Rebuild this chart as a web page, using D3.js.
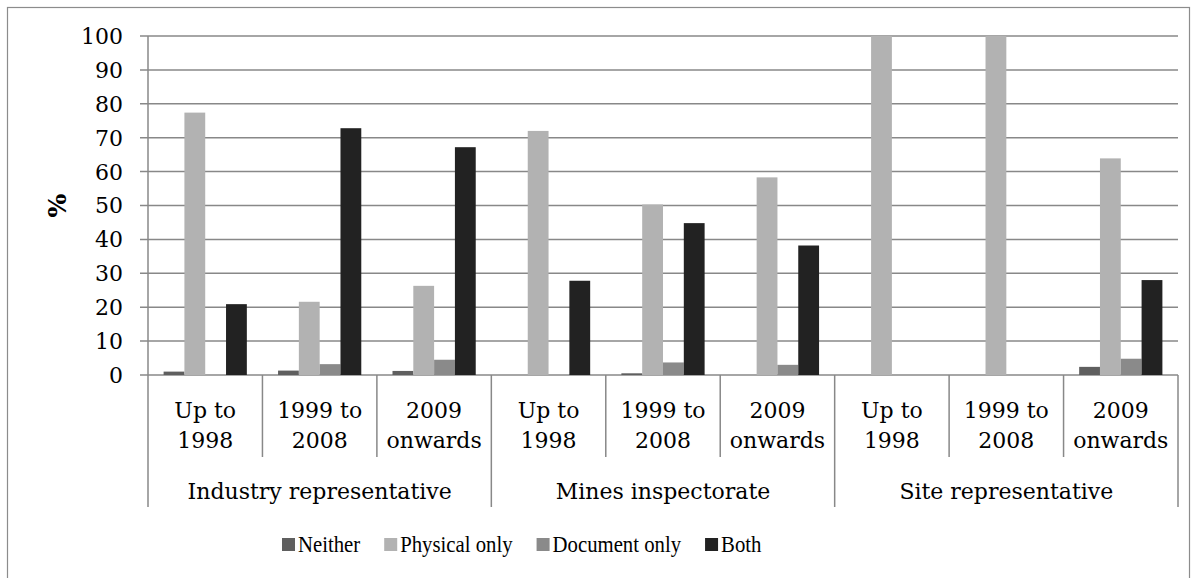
<!DOCTYPE html>
<html>
<head>
<meta charset="utf-8">
<script src="https://cdn.jsdelivr.net/npm/d3@7"></script>
<style>
  body { margin: 0; background: #fff; }
  svg { display: block; }
  text { font-family: "DejaVu Serif", serif; fill: #000; }
</style>
</head>
<body>
<script>
// chart data
var groups = ["Industry representative", "Mines inspectorate", "Site representative"];
var periods = [["Up to", "1998"], ["1999 to", "2008"], ["2009", "onwards"]];
var series = ["Neither", "Physical only", "Document only", "Both"];
var colors = ["#5f5f5f", "#b2b2b2", "#8a8a8a", "#222222"];

// one entry per group/period, in the order above
var neither  = [1.0, 1.3, 1.2,   0, 0.5,   0,   0,   0, 2.4];
var physical = [77.4, 21.6, 26.3, 72.0, 50.3, 58.3, 100, 100, 63.9];
var documentOnly = [0, 3.2, 4.5, 0, 3.7, 3.0, 0, 0, 4.8];
var both     = [20.9, 72.8, 67.2, 27.8, 44.8, 38.2, 0, 0, 28.0];

var yTicks = [0, 10, 20, 30, 40, 50, 60, 70, 80, 90, 100];

var width = 1197, height = 578;
var plot = { left: 148, right: 1178, top: 36, bottom: 375 };

var svg = d3.select("body").append("svg")
    .attr("width", width)
    .attr("height", height);

// outer chart border
svg.append("rect")
    .attr("x", 7.5).attr("y", 7.5)
    .attr("width", 1182).attr("height", 600)
    .attr("fill", "none")
    .attr("stroke", "#8c8c8c")
    .attr("stroke-width", 1.2);

// build the rows for the 9 categories
var rows = [];
groups.forEach(function (g, gi) {
    periods.forEach(function (p, pi) {
        var i = gi * 3 + pi;
        rows.push({
            key: i, group: g, period: p,
            values: [neither[i], physical[i], documentOnly[i], both[i]]
        });
    });
});

var x0 = d3.scaleBand()
    .domain(rows.map(d => d.key))
    .range([plot.left, plot.right])
    .padding(0);

// gap width 150% -> 4 bars + 1.5 bar of gap
var bw = x0.bandwidth() / 5.5;
var x1 = d3.scaleBand()
    .domain(d3.range(series.length))
    .range([bw * 0.75, x0.bandwidth() - bw * 0.75])
    .padding(0);

var y = d3.scaleLinear()
    .domain([0, 100])
    .range([plot.bottom, plot.top]);

// gridlines
svg.append("g")
    .selectAll("line")
    .data(yTicks)
    .enter().append("line")
    .attr("x1", plot.left - 8)
    .attr("x2", plot.right)
    .attr("y1", d => y(d))
    .attr("y2", d => y(d))
    .attr("stroke", "#888")
    .attr("stroke-width", 1.5);

// y tick labels
svg.append("g")
    .selectAll("text")
    .data(yTicks)
    .enter().append("text")
    .attr("x", 123)
    .attr("y", d => y(d))
    .attr("dy", "0.36em")
    .attr("text-anchor", "end")
    .attr("font-size", "22px")
    .text(d => d);

// y axis title
svg.append("text")
    .attr("transform", "translate(66," + ((plot.top + plot.bottom) / 2) + ") rotate(-90)")
    .attr("text-anchor", "middle")
    .attr("font-size", "25px")
    .attr("font-weight", "bold")
    .text("%");

// bars
var cat = svg.append("g")
    .selectAll("g")
    .data(rows)
    .enter().append("g")
    .attr("transform", d => "translate(" + x0(d.key) + ",0)");

cat.selectAll("rect")
    .data(d => d.values.map((v, i) => ({ v: v, i: i })))
    .enter().append("rect")
    .attr("x", d => x1(d.i))
    .attr("width", x1.bandwidth())
    .attr("y", d => y(d.v))
    .attr("height", d => y(0) - y(d.v))
    .attr("fill", d => colors[d.i]);

// y axis line
svg.append("line")
    .attr("x1", plot.left).attr("x2", plot.left)
    .attr("y1", plot.top).attr("y2", plot.bottom)
    .attr("stroke", "#888").attr("stroke-width", 1.5);

// category separators (short) and group separators (long)
var seps = d3.range(rows.length + 1);
svg.append("g")
    .selectAll("line")
    .data(seps)
    .enter().append("line")
    .attr("x1", d => d < rows.length ? x0(d) : plot.right)
    .attr("x2", d => d < rows.length ? x0(d) : plot.right)
    .attr("y1", plot.bottom)
    .attr("y2", d => d % 3 === 0 ? 507 : 457)
    .attr("stroke", "#888")
    .attr("stroke-width", 1.5);

// period labels (two lines each)
var lab = svg.append("g")
    .selectAll("text")
    .data(rows)
    .enter().append("text")
    .attr("text-anchor", "middle")
    .attr("font-size", "22px");
lab.append("tspan")
    .attr("x", d => x0(d.key) + x0.bandwidth() / 2)
    .attr("y", 418)
    .text(d => d.period[0]);
lab.append("tspan")
    .attr("x", d => x0(d.key) + x0.bandwidth() / 2)
    .attr("y", 448)
    .text(d => d.period[1]);

// group labels
svg.append("g")
    .selectAll("text")
    .data(groups)
    .enter().append("text")
    .attr("x", (d, i) => (x0(i * 3) + x0(i * 3 + 2) + x0.bandwidth()) / 2)
    .attr("y", 499)
    .attr("text-anchor", "middle")
    .attr("font-size", "22px")
    .text(d => d);

// legend - the original uses a tall, narrow face, so squeeze it a little
var squeeze = 0.865;
var legend = svg.append("g").attr("transform", "translate(282,538)");
var lx = 0;
series.forEach(function (s, i) {
    var item = legend.append("g").attr("transform", "translate(" + lx + ",0)");
    item.append("rect")
        .attr("width", 13).attr("height", 13)
        .attr("fill", colors[i]);
    var t = item.append("text")
        .attr("transform", "translate(16,14) scale(" + squeeze + ",1)")
        .attr("font-size", "24px")
        .style("font-family", "'Liberation Serif', serif")
        .text(s);
    lx += 16 + t.node().getComputedTextLength() * squeeze + 24;
});
</script>
</body>
</html>
